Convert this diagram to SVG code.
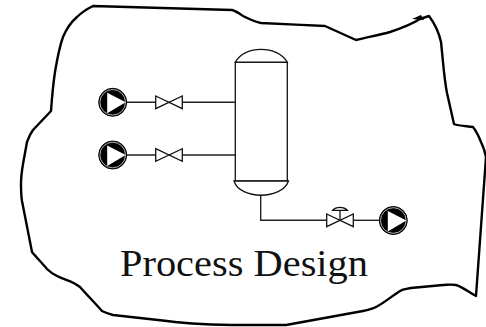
<svg xmlns="http://www.w3.org/2000/svg" width="486" height="327" viewBox="0 0 486 327">
<style>
.pipe{fill:none;stroke:#222;stroke-width:1.4}
.eq{fill:#fff;stroke:#111;stroke-width:1.3}
.disk{fill:#000;stroke:#000;stroke-width:1}
.ring{fill:none;stroke:#ddd;stroke-width:.8}
.tri{fill:#fff;stroke:none}
.label{font-family:"Liberation Serif",serif;font-size:38px;fill:#111}
</style>
<defs>
<g id="pump"><circle class="disk" r="14"/><circle class="ring" r="12.8"/><path class="tri" d="M-5.5,-9.5L13,0L-5.5,11Z"/></g>
<g id="valve"><path class="eq" d="M-13.3,-6.3L13.3,6.3V-6.3L-13.3,6.3Z"/></g>
</defs>
<path id="outline" fill="none" stroke="#000" stroke-width="2.4" stroke-linejoin="round" d="M93,6L232,10C236,11 240,14 243,16C249,19 255,22 261,23C280,24 305,25 325,26L356,40C368,37 380,35 390,32C402,28 412,24 420,19L429,16C435,24 439,33 441,42C443,60 444,78 447,93L454,124C459,126 466,126 473,127C477,132 479,137 481,142C484,148 485,152 486,157L476,296C470,293 463,287 456,285C450,284 446,285 443,285L411,288C406,289 403,289 400,291C392,296 384,303 376,307C372,309 368,310 363,311L286,325L243,325C218,325 190,324 167,321C148,319 130,317 113,315C109,314 106,313 102,311C95,303 87,295 80,287C73,281 65,280 57,276C53,274 50,272 47,269C42,263 37,258 32,252L22,201C21,195 21,190 21,184C21,177 22,170 23,164L27,142C29,137 30,134 33,130L51,111C52,97 53,85 55,72C57,60 59,48 63,37C66,30 71,22 77,17C82,12 87,9 93,6Z"/>
<path fill="#000" d="M412,19L421,15L424,20Z"/>
<g id="connectors">
<path class="pipe" d="M126,102.3H155.7M182.3,102.3H235.3"/>
<path class="pipe" d="M126,155H155.7M182.3,155H235.3"/>
<path class="pipe" d="M260.7,195V220.3H326.7"/>
<path class="pipe" d="M353.3,220.3H380"/>
</g>
<g id="pump1"><use href="#pump" x="112.7" y="102.3"/></g>
<g id="pump2"><use href="#pump" x="112.7" y="155"/></g>
<g id="pump3"><use href="#pump" x="393.3" y="220.5"/></g>
<g id="valve1"><use href="#valve" x="169" y="102.3"/></g>
<g id="valve2"><use href="#valve" x="169" y="155"/></g>
<g id="valve3"><use href="#valve" x="340" y="220.3"/><path class="pipe" d="M340,220.3V210"/><path class="eq" d="M332.7,210.3C336,206.5 344,206.5 347.3,210.3Z"/></g>
<g id="vessel"><path class="eq" d="M235.3,62.3C244,45 278,45 287.3,62.3Z"/><rect class="eq" x="235.3" y="62.3" width="52" height="118.7"/><path class="eq" d="M234,181H288.5C282,200 240,200 234,181Z"/></g>
<text id="title" class="label" x="120" y="275.7" textLength="248" lengthAdjust="spacingAndGlyphs">Process Design</text>
</svg>
